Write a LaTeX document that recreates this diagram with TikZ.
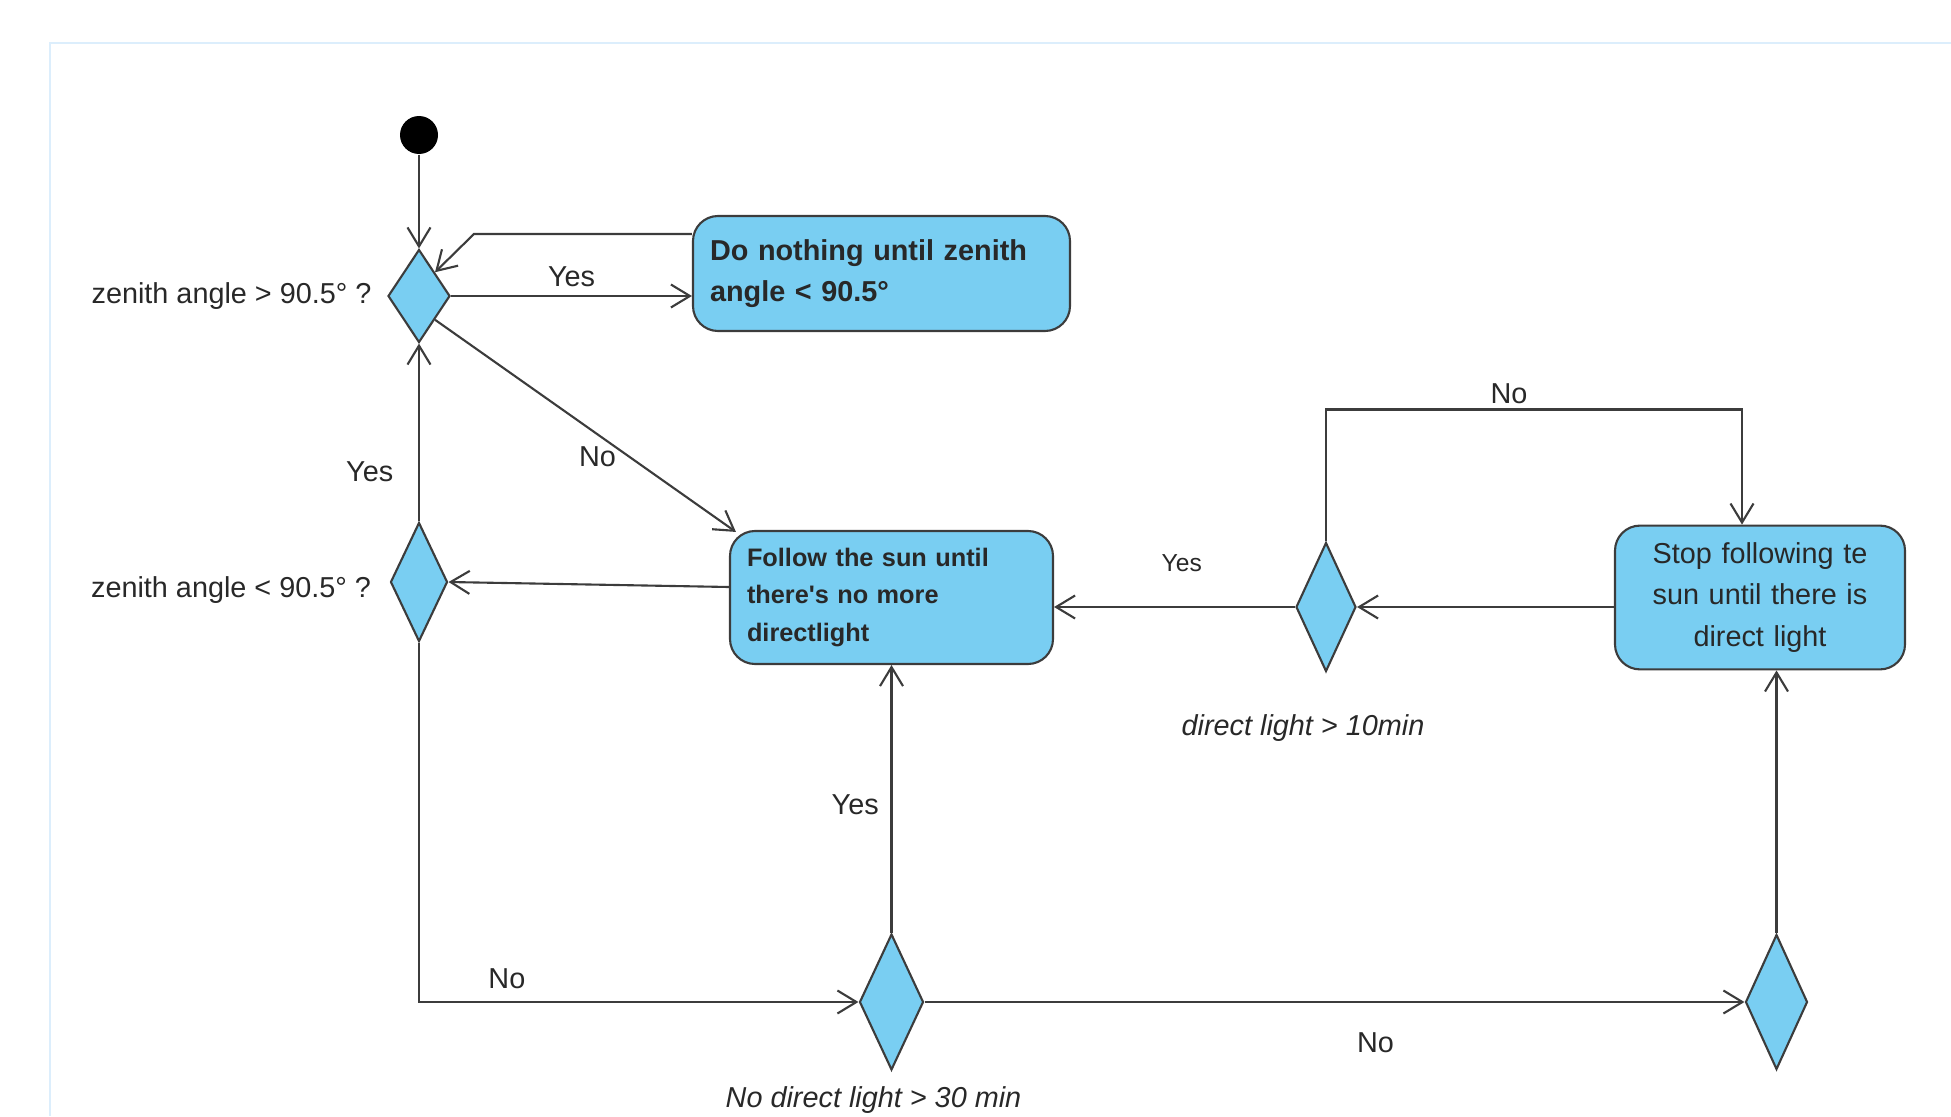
\documentclass[tikz,border=0pt]{standalone}
\usepackage{fontspec}
\setmainfont{Liberation Sans}
\usepackage{tikz}
\usetikzlibrary{shapes.geometric, arrows.meta, positioning, calc}
\definecolor{actblue}{RGB}{121,206,242}
\definecolor{edgegray}{RGB}{60,60,60}
\definecolor{ink}{RGB}{40,40,40}
\definecolor{framecol}{RGB}{220,238,252}
\tikzstyle{activity} = [rectangle, rounded corners=2.5mm, draw=edgegray,
fill=actblue, line width=0.6pt, text=ink, inner sep=1.7mm]
\tikzstyle{decision} = [diamond, draw=edgegray, fill=actblue, line width=0.6pt,
inner sep=0pt, minimum width=0.62cm, minimum height=0.93cm]
\tikzstyle{arrow} = [draw=edgegray, line width=0.6pt,
-{Straight Barb[length=1.9mm, width=2.3mm]}]
\tikzstyle{lbl} = [text=ink, font=\fontsize{8.2}{10}\selectfont]

\begin{document}
\begin{tikzpicture}[on grid]
    \useasboundingbox (0,0) rectangle (19.51,11.16);
    \draw [framecol, line width=0.8pt] (0.5,0) -- (0.5,10.73) -- (19.51,10.73);

    \node (start) [circle, fill=black, minimum size=0.38cm, inner sep=0pt] at
    (4.19,9.81) {}; \node (d1) [decision, below=1.61cm of start] {};
    \node (wait) [activity, above right=0.225cm and 4.625cm of d1, minimum
      width=3.77cm, minimum height=1.15cm, text width=3.43cm, align=left,
      font=\bfseries\fontsize{8.2}{11.7}\selectfont] {Do nothing until
      zenith\\ angle < 90.5°};
    \node (d2) [decision, below=2.86cm of d1, minimum width=0.57cm, minimum
      height=1.19cm] {};
    \node (follow) [activity, below right=0.155cm and 4.725cm of d2, minimum
      width=3.23cm, minimum height=1.33cm, text width=2.89cm, align=left,
      font=\bfseries\fontsize{7.2}{10.6}\selectfont] {Follow the sun until\\
      there\textquotesingle s no more\\ directlight};
    \node (d3) [decision, below right=0.095cm and 4.345cm of follow, minimum
      width=0.60cm, minimum height=1.29cm] {};
    \node (stop) [activity, above right=0.095cm and 4.34cm of d3, minimum
      width=2.90cm, minimum height=1.39cm, text width=2.56cm, align=center,
      font=\fontsize{8.2}{11.8}\selectfont] {Stop following te\\ sun until
      there is\\ direct light};
    \node (d4) [decision, below=4.045cm of follow, minimum width=0.64cm,
      minimum height=1.36cm] {};
    \node (d5) [decision, right=8.85cm of d4, minimum width=0.62cm, minimum
      height=1.35cm] {};

    % guard texts beside the decisions
    \node (q1) [lbl, on grid=false, left=0.03cm of d1] {zenith angle > 90.5° ?};
    \node (q2) [lbl, on grid=false, left=0.06cm of d2, yshift=-0.8mm] {zenith
      angle < 90.5° ?};
    \node (q3) [lbl, on grid=false, below=0.30cm of d3, xshift=-2.3mm,
      font=\itshape\fontsize{8.2}{10}\selectfont] {direct light > 10min};
    \node (q4) [lbl, on grid=false, below=0.03cm of d4, xshift=-1.8mm,
      font=\itshape\fontsize{8.2}{10}\selectfont] {No direct light > 30 min};

    \coordinate (top) at ([yshift=1.32cm]d3.north); % loop over to stop

    \draw [arrow] (start) -- (d1);
    \draw [arrow] (d1) -- node[lbl, above=-0.4mm] {Yes} (d1.east -| wait.west);
    \draw [arrow] ([yshift=3.95mm]wait.west) -- ++(-2.18,0) -- (d1.north east);
    \draw [arrow] (d1.south east) -- node[lbl, pos=0.54, below] {No}
    ([shift={(0.07,-0.02)}]follow.north west);
    \draw [arrow] ([yshift=1.05mm]follow.west) -- (d2.east);
    \draw [arrow] (d2) -- node[lbl, pos=0.28, left=1.3mm] {Yes} (d1);
    \draw [arrow] (d2) |- node[lbl, pos=0.6, above] {No} (d4);
    \draw [arrow] (d4) -- node[lbl, pos=0.55, below=1.8mm] {No} (d5);
    \draw [arrow] (d4) -- node[lbl, pos=0.48, left] {Yes} (d4.north |-
    follow.south); \draw [arrow] (d5) -- (d5.north |- stop.south);
    \draw [arrow] (d3.east -| stop.west) -- (d3);
    \draw [arrow] (d3) -- node[lbl, pos=0.47, above=2.2mm,
      font=\fontsize{7}{9}\selectfont] {Yes} (d3.west -| follow.east);
    \draw [arrow] (d3) -- (top) -| node[lbl, pos=0.22, above=-0.7mm] {No}
    ([xshift=-1.8mm]stop.north);

\end{tikzpicture}
\end{document}
